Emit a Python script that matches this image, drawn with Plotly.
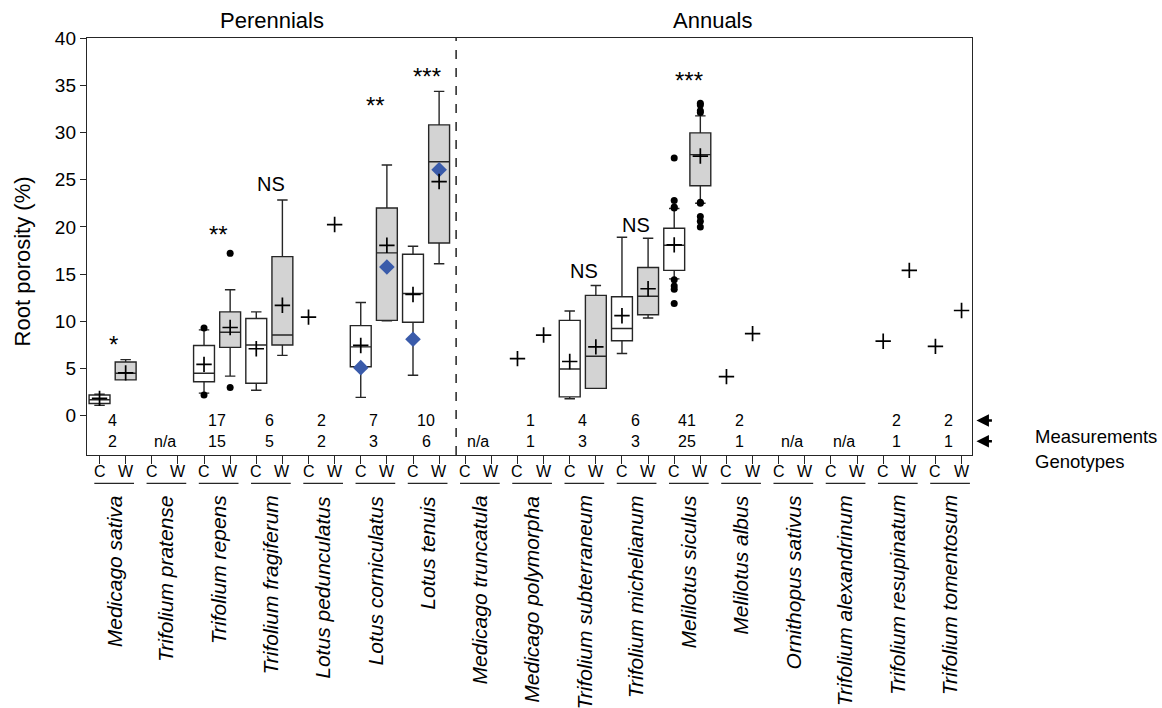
import plotly.graph_objects as go

# ---------------- data ----------------
species = ["Medicago sativa", "Trifolium pratense", "Trifolium repens", "Trifolium fragiferum",
           "Lotus pedunculatus", "Lotus corniculatus", "Lotus tenuis", "Medicago truncatula",
           "Medicago polymorpha", "Trifolium subterraneum", "Trifolium michelianum",
           "Melilotus siculus", "Melilotus albus", "Ornithopus sativus",
           "Trifolium alexandrinum", "Trifolium resupinatum", "Trifolium tomentosum"]
treatments = ["C", "W"]
groups = ["Perennials", "Annuals"]
measurements = ["4", "", "17", "6", "2", "7", "10", "", "1", "4", "6", "41", "2", "", "", "2", "2"]
genotypes = ["2", "n/a", "15", "5", "2", "3", "6", "n/a", "1", "3", "3", "25", "1", "n/a", "n/a", "1", "1"]

# box statistics (same species for C and W boxes)
box_species = ["Medicago sativa", "Trifolium repens", "Trifolium fragiferum", "Lotus corniculatus",
               "Lotus tenuis", "Trifolium subterraneum", "Trifolium michelianum", "Melilotus siculus"]
c_q1 = [1.3, 3.6, 3.45, 5.2, 9.9, 2.0, 7.95, 15.4]
c_med = [1.7, 4.5, 7.5, 7.3, 12.95, 4.95, 9.25, 18.05]
c_q3 = [2.2, 7.45, 10.3, 9.55, 17.1, 10.1, 12.6, 19.85]
c_lo = [1.1, 2.4, 2.7, 1.95, 4.3, 1.8, 6.6, 14.5]
c_hi = [2.3, 9.1, 11.0, 12.0, 17.95, 11.1, 18.9, 21.95]
w_q1 = [3.8, 7.25, 7.5, 10.1, 18.3, 2.9, 10.7, 24.35]
w_med = [4.5, 8.85, 8.55, 17.25, 26.9, 6.3, 12.65, 27.65]
w_q3 = [5.7, 11.0, 16.85, 22.0, 30.8, 12.75, 15.7, 29.95]
w_lo = [3.8, 4.2, 6.4, 10.05, 16.1, 2.9, 10.35, 22.5]
w_hi = [5.95, 13.35, 22.85, 26.55, 34.35, 13.8, 18.8, 31.75]

# means (+) per species; None = no data
c_mean = [1.85, None, 5.45, 7.1, 10.45, 7.45, 12.85, None, 6.05, 5.75, 10.6, 18.1, 4.15, None, None, 7.9, 7.35]
w_mean = [4.55, None, 9.35, 11.7, 20.25, 18.05, 24.8, None, 8.55, 7.3, 13.45, 27.5, 8.7, None, None, 15.4, 11.15]

# outliers
out_species = ["Trifolium repens", "Trifolium repens", "Trifolium repens", "Trifolium repens"] + \
              ["Melilotus siculus"] * 17
out_treat = ["C", "C", "W", "W"] + ["C"] * 8 + ["W"] * 9
out_values = [9.3, 2.2, 17.2, 3.0,
              22.0, 22.1, 22.8, 27.3, 14.4, 13.75, 13.4, 11.9,
              33.1, 32.9, 32.3, 32.1, 22.6, 22.5, 21.1, 20.6, 20.0]

# blue diamonds
dia_species = ["Lotus corniculatus", "Lotus corniculatus", "Lotus tenuis", "Lotus tenuis"]
dia_treat = ["C", "W", "C", "W"]
dia_values = [5.1, 15.75, 8.1, 26.05]

# significance labels
sig_species = ["Medicago sativa", "Trifolium repens", "Trifolium fragiferum", "Lotus corniculatus",
               "Lotus tenuis", "Trifolium subterraneum", "Trifolium michelianum", "Melilotus siculus"]
sig_text = ["*", "**", "NS", "**", "***", "NS", "NS", "***"]
sig_y = [7.5, 19.2, 24.5, 32.9, 35.9, 15.3, 20.2, 35.5]

row_labels = ["Measurements", "Genotypes"]

# ---------------- helpers ----------------
def pos(sp, t):
    return 2 * species.index(sp) + treatments.index(t)

FONT = "Arial, Liberation Sans, sans-serif"
LINE = "#262626"

fig = go.Figure()

fig.add_trace(go.Box(
    x=[pos(s, "C") for s in box_species], q1=c_q1, median=c_med, q3=c_q3,
    lowerfence=c_lo, upperfence=c_hi, orientation="v", boxpoints=False,
    width=0.8, whiskerwidth=0.5, fillcolor="white",
    line=dict(color=LINE, width=1.4), showlegend=False, hoverinfo="skip"))
fig.add_trace(go.Box(
    x=[pos(s, "W") for s in box_species], q1=w_q1, median=w_med, q3=w_q3,
    lowerfence=w_lo, upperfence=w_hi, orientation="v", boxpoints=False,
    width=0.8, whiskerwidth=0.5, fillcolor="#D3D3D3",
    line=dict(color=LINE, width=1.4), showlegend=False, hoverinfo="skip"))

# outliers
fig.add_trace(go.Scatter(
    x=[pos(s, t) for s, t in zip(out_species, out_treat)], y=out_values, mode="markers",
    marker=dict(symbol="circle", size=7, color="black"), showlegend=False, cliponaxis=False))

# blue diamonds
fig.add_trace(go.Scatter(
    x=[pos(s, t) for s, t in zip(dia_species, dia_treat)], y=dia_values, mode="markers",
    marker=dict(symbol="diamond", size=12, color="#3A5BAA"), showlegend=False))

# means (+)
mx, my = [], []
for i, sp in enumerate(species):
    if c_mean[i] is not None:
        mx.append(pos(sp, "C")); my.append(c_mean[i])
    if w_mean[i] is not None:
        mx.append(pos(sp, "W")); my.append(w_mean[i])
fig.add_trace(go.Scatter(
    x=mx, y=my, mode="markers",
    marker=dict(symbol="cross-thin", size=11, line=dict(width=1.7, color="black")),
    showlegend=False))

annotations = []
shapes = []

# significance
for sp, txt, yv in zip(sig_species, sig_text, sig_y):
    annotations.append(dict(x=2 * species.index(sp) + 0.55, y=yv, xref="x", yref="y",
                            text=txt, showarrow=False, xanchor="center", yanchor="middle",
                            font=dict(family=FONT, size=24 if "*" in txt else 20, color="black")))

# counts, C/W labels, species names
for i, sp in enumerate(species):
    if measurements[i]:
        annotations.append(dict(x=2 * i + 0.5, y=-0.5, xref="x", yref="y", text=measurements[i],
                                showarrow=False, xanchor="center", yanchor="middle",
                                font=dict(family=FONT, size=16, color="black")))
    annotations.append(dict(x=2 * i + 0.5, y=-2.7, xref="x", yref="y", text=genotypes[i],
                            showarrow=False, xanchor="center", yanchor="middle",
                            font=dict(family=FONT, size=16, color="black")))
    for t in treatments:
        annotations.append(dict(x=pos(sp, t), y=-0.0384, xref="x", yref="paper", text=t,
                                showarrow=False, xanchor="center", yanchor="middle",
                                font=dict(family=FONT, size=16, color="black")))
    annotations.append(dict(x=2 * i + 0.55, y=-0.092, xref="x", yref="paper",
                            text="<i>" + sp + "</i>", showarrow=False, textangle=-90,
                            xanchor="center", yanchor="top",
                            font=dict(family=FONT, size=21, color="black")))
    shapes.append(dict(type="line", xref="x", yref="paper", x0=2 * i - 0.2, x1=2 * i + 1.32,
                       y0=-0.068, y1=-0.068, line=dict(color=LINE, width=1.4)))

# group headers
annotations.append(dict(x=6.6, y=1.043, xref="x", yref="paper", text=groups[0], showarrow=False,
                        xanchor="center", yanchor="middle",
                        font=dict(family=FONT, size=22, color="black")))
annotations.append(dict(x=23.47, y=1.043, xref="x", yref="paper", text=groups[1], showarrow=False,
                        xanchor="center", yanchor="middle",
                        font=dict(family=FONT, size=22, color="black")))

# y-axis title
annotations.append(dict(x=-0.0734, y=16.35, xref="paper", yref="y", text="Root porosity (%)",
                        showarrow=False, textangle=-90, xanchor="center", yanchor="middle",
                        font=dict(family=FONT, size=22, color="black")))

# arrows + row legend text
for yv in [-0.5, -2.7]:
    annotations.append(dict(x=1.005, y=yv, xref="paper", yref="y", ax=17, ay=0, text="",
                            showarrow=True, arrowhead=2, arrowsize=1, arrowwidth=2.5,
                            arrowcolor="black"))
for lab, yp in zip(row_labels, [0.0432, -0.0144]):
    annotations.append(dict(x=1.069, y=yp, xref="paper", yref="paper", text=lab,
                            showarrow=False, xanchor="left", yanchor="middle",
                            font=dict(family=FONT, size=18.5, color="black")))

# dashed separator
shapes.append(dict(type="line", xref="x", yref="paper", x0=13.65, x1=13.65, y0=0, y1=1,
                   line=dict(color="black", width=1.3, dash="dash")))

fig.update_layout(
    width=1162, height=708,
    margin=dict(l=87, r=190, t=38, b=253),
    plot_bgcolor="white", paper_bgcolor="white",
    boxmode="overlay",
    annotations=annotations, shapes=shapes,
    font=dict(family=FONT, color="black"),
    xaxis=dict(range=[-0.48, 33.4], tickmode="array", tickvals=list(range(34)),
               showticklabels=False, ticks="outside", ticklen=8, tickwidth=1.3,
               tickcolor=LINE, showline=True, linecolor=LINE, linewidth=1.4, mirror=True,
               showgrid=False, zeroline=False),
    yaxis=dict(range=[-4.15, 40], tickmode="array", tickvals=list(range(0, 41, 5)),
               ticks="outside", ticklen=6, tickwidth=1.3, tickcolor=LINE,
               showline=True, linecolor=LINE, linewidth=1.4, mirror=True,
               showgrid=False, zeroline=False, tickfont=dict(family=FONT, size=19, color="black")),
)

fig.write_html("out.html", config={"displayModeBar": False},
               post_script="document.body.style.margin='0';document.body.style.overflow='hidden';")
